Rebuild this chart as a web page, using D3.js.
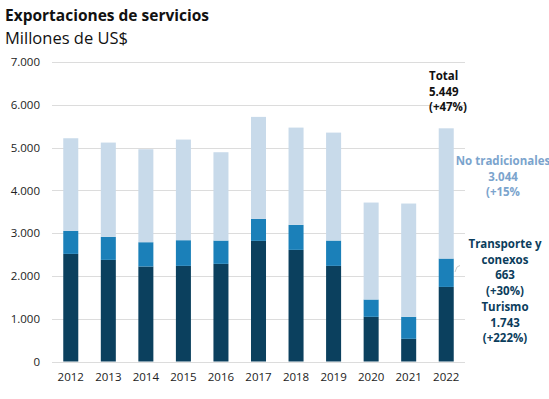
<!DOCTYPE html>
<html>
<head>
<meta charset="utf-8">
<script src="https://cdn.jsdelivr.net/npm/d3@7"></script>
<style>
  body { margin: 0; background: #fff; }
  svg { display: block; font-family: "Open Sans", sans-serif; }
</style>
</head>
<body>
<svg id="chart" width="549" height="399"></svg>
<script>
// Exportaciones de servicios, millones de US$
var years = ["2012", "2013", "2014", "2015", "2016", "2017", "2018", "2019", "2020", "2021", "2022"];
var turismo = [2515, 2375, 2220, 2235, 2282, 2819, 2609, 2235, 1044, 530, 1743];
var transporte = [538, 538, 568, 600, 545, 514, 584, 592, 405, 514, 663];
var noTradicionales = [2165, 2204, 2173, 2352, 2064, 2384, 2274, 2523, 2266, 2648, 3044];
var yTicks = [0, 1000, 2000, 3000, 4000, 5000, 6000, 7000];

var seriesKeys = ["turismo", "transporte", "noTradicionales"];
var colors = { turismo: "#0b405e", transporte: "#1b80b9", noTradicionales: "#c8daea" };

// labels at the right of the last bar
var totalLines = ["Total", "5.449", "(+47%)"];
var noTradLines = ["No tradicionales", "3.044", "(+15%"];
var transLines = ["Transporte y", "conexos", "663", "(+30%)"];
var turismoLines = ["Turismo", "1.743", "(+222%)"];

(function() {
  var svg = d3.select("#chart");
  var plotLeft = 52, plotRight = 465, plotTop = 62, plotBottom = 361.5;

  var rows = years.map(function(yr, i) {
    return { year: yr, turismo: turismo[i], transporte: transporte[i], noTradicionales: noTradicionales[i] };
  });
  var stacked = d3.stack().keys(seriesKeys)(rows);

  var x = d3.scaleBand().domain(years).range([plotLeft, plotRight]).paddingInner(0.6).paddingOuter(0.3);
  var y = d3.scaleLinear().domain([0, 7000]).range([plotBottom, plotTop]);

  var loc = d3.formatLocale({ decimal: ",", thousands: ".", grouping: [3], currency: ["", "$"] });
  var fmt = loc.format(",d");

  // gridlines
  svg.append("g").selectAll("line")
    .data(yTicks)
    .enter().append("line")
      .attr("x1", plotLeft).attr("x2", plotRight)
      .attr("y1", function(d) { return Math.round(y(d)) + 0.5; })
      .attr("y2", function(d) { return Math.round(y(d)) + 0.5; })
      .attr("stroke", "#dcdcdc")
      .attr("stroke-width", 1);

  // y axis labels
  var yAxis = svg.append("g")
    .attr("transform", "translate(" + plotLeft + ",0)")
    .call(d3.axisLeft(y).tickValues(yTicks).tickFormat(fmt).tickSize(0).tickPadding(12));
  yAxis.select(".domain").remove();
  yAxis.selectAll("text").attr("font-size", "11.5px").attr("fill", "#222").attr("font-family", "Open Sans, sans-serif");

  // x axis labels
  var xAxis = svg.append("g")
    .attr("transform", "translate(0," + plotBottom + ")")
    .call(d3.axisBottom(x).tickSize(0).tickPadding(11));
  xAxis.select(".domain").remove();
  xAxis.selectAll("text").attr("font-size", "11.5px").attr("fill", "#222").attr("font-family", "Open Sans, sans-serif");

  // bars
  svg.append("g").selectAll("g")
    .data(stacked)
    .enter().append("g")
      .attr("fill", function(d) { return colors[d.key]; })
    .selectAll("rect")
    .data(function(d) { return d; })
    .enter().append("rect")
      .attr("x", function(d) { return x(d.data.year); })
      .attr("width", x.bandwidth())
      .attr("y", function(d) { return y(d[1]); })
      .attr("height", function(d) { return y(d[0]) - y(d[1]); });

  // titles
  svg.append("text")
    .attr("x", 5).attr("y", 21)
    .attr("font-size", "15.5px").attr("font-weight", "bold").attr("fill", "#111")
    .text("Exportaciones de servicios");
  svg.append("text")
    .attr("x", 5).attr("y", 44)
    .attr("font-size", "16.5px").attr("fill", "#111")
    .text("Millones de US$");

  function block(lines, xPos, y0, anchor, color) {
    var t = svg.append("text")
      .attr("font-size", "11.5px").attr("font-weight", "bold")
      .attr("fill", color).attr("text-anchor", anchor);
    lines.forEach(function(l, i) {
      t.append("tspan").attr("x", xPos).attr("y", y0 + i * 15.6).text(l);
    });
  }
  block(totalLines, 429, 80, "start", "#111");
  block(noTradLines, 503, 165, "middle", "#7ba4cd");
  block(transLines, 505, 248, "middle", "#0b3d5c");
  block(turismoLines, 505, 311, "middle", "#0b3d5c");

  // small leader mark next to the last bar
  svg.append("path")
    .attr("d", "M455,272 L457,267 L460,265.5")
    .attr("fill", "none").attr("stroke", "#bbb").attr("stroke-width", 0.8);
})();
</script>
</body>
</html>
